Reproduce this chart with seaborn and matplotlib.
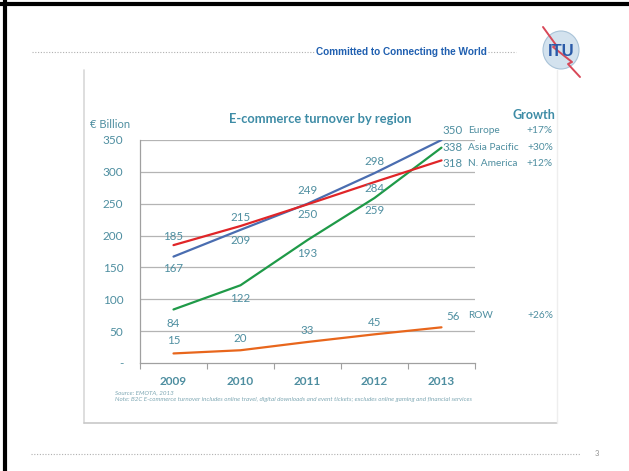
import pandas as pd
import matplotlib.pyplot as plt
import matplotlib.patches as patches
import matplotlib.lines as mlines
import seaborn as sns

years = ['2009', '2010', '2011', '2012', '2013']
europe = [167, 209, 250, 298, 350]
asia_pacific = [84, 122, 193, 259, 338]
n_america = [185, 215, 249, 284, 318]
row = [15, 20, 33, 45, 56]
regions = ['Europe', 'Asia Pacific', 'N. America', 'ROW']
growth = ['+17%', '+30%', '+12%', '+26%']
y_ticks = [0, 50, 100, 150, 200, 250, 300, 350]
y_tick_labels = ['-', '50', '100', '150', '200', '250', '300', '350']

colors = {'Europe': '#4a6db0', 'Asia Pacific': '#1f9a48',
          'N. America': '#e02528', 'ROW': '#e8661c'}
teal = '#4e8ea0'
title_teal = '#3e8ca6'

data = pd.DataFrame({
    'year': years * 4,
    'x': list(range(len(years))) * 4,
    'value': europe + asia_pacific + n_america + row,
    'region': [r for r in regions for _ in years],
})

sns.set_theme(style='white')
plt.rcParams['font.family'] = ['Lato', 'DejaVu Sans']

W, H = 629, 471
fig = plt.figure(figsize=(W / 100, H / 100), dpi=100)
fig.patch.set_facecolor('white')


def fx(px):
    return px / W


def fy(py):
    return 1 - py / H


# slide frame
fig.add_artist(mlines.Line2D([fx(0), fx(W)], [fy(4), fy(4)], color='black', lw=3))
fig.add_artist(mlines.Line2D([fx(4.5), fx(4.5)], [fy(0), fy(H)], color='black', lw=3))
# header
fig.add_artist(mlines.Line2D([fx(32), fx(314)], [fy(52), fy(52)], color='#b0b0b0', lw=0.8, ls=(0, (1, 1.5))))
fig.add_artist(mlines.Line2D([fx(488), fx(516)], [fy(52), fy(52)], color='#b0b0b0', lw=0.8, ls=(0, (1, 1.5))))
fig.text(fx(401), fy(52), 'Committed to Connecting the World', ha='center', va='center',
         fontsize=7.2, fontweight='bold', color='#1f5fb0', family=['Liberation Sans', 'DejaVu Sans'])
# logo
fig.add_artist(patches.Ellipse((fx(561), fy(50)), 36 / W, 38 / H, transform=fig.transFigure,
                               facecolor='#d3e2ee', edgecolor='#a9c3d8', lw=0.8))
fig.add_artist(mlines.Line2D([fx(543), fx(556), fx(553), fx(572), fx(568), fx(580)],
                             [fy(27), fy(45), fy(47), fy(62), fy(64), fy(77)],
                             color='#d84858', lw=1.4, solid_capstyle='round'))
fig.text(fx(561), fy(52), 'ITU', ha='center', va='center', fontsize=12, fontweight='bold',
         color='#2a5aa8', family=['Liberation Sans', 'DejaVu Sans'])
# footer
fig.add_artist(mlines.Line2D([fx(31), fx(581)], [fy(454), fy(454)], color='#b0b0b0', lw=0.8, ls=(0, (1, 1.5))))
fig.text(fx(597), fy(454), '3', ha='center', va='center', fontsize=5.5, color='#909090')
# chart panel
fig.add_artist(mlines.Line2D([fx(84), fx(84)], [fy(70), fy(423)], color='#d8d8d8', lw=1.2))
fig.add_artist(mlines.Line2D([fx(84), fx(557)], [fy(423), fy(423)], color='#c8c8c8', lw=1.2))
fig.add_artist(mlines.Line2D([fx(557), fx(557)], [fy(70), fy(423)], color='#eeeeee', lw=1.0))

ax = fig.add_axes([fx(140), fy(363), fx(475) - fx(140), fy(140) - fy(363)])
ax.set_facecolor('none')
sns.lineplot(data=data, x='x', y='value', hue='region', palette=colors, lw=1.6,
             legend=False, ax=ax)
ax.set_xlim(-0.5, 4.5)
ax.set_ylim(0, 350)
ax.set_yticks(y_ticks)
ax.set_yticklabels(y_tick_labels)
for v in y_ticks[1:]:
    ax.axhline(v, color='#b4b4b4', lw=0.9, zorder=0)
ax.set_xticks([i - 0.5 for i in range(len(years) + 1)])
ax.set_xticklabels([])
ax.tick_params(axis='x', direction='out', length=4, color='#a0a0a0', width=0.8, bottom=True)
ax.tick_params(axis='y', length=0, labelsize=8.5, labelcolor=teal, pad=12)
for i, y in enumerate(years):
    ax.text(i, -0.06, y, transform=ax.get_xaxis_transform(), ha='center', va='top',
            fontsize=8.5, fontweight='bold', color=teal)
for s in ['top', 'right']:
    ax.spines[s].set_visible(False)
ax.spines['left'].set_color('#a0a0a0')
ax.spines['bottom'].set_color('#a0a0a0')
ax.spines['left'].set_linewidth(0.9)
ax.spines['bottom'].set_linewidth(0.9)
ax.set_xlabel('')
ax.set_ylabel('')

# data labels (offsets in points)
offsets = {
    'Europe': [-11, -10, -10, 11],
    'Asia Pacific': [-13, -13, -13, -12],
    'N. America': [8, 8, 13, -6],
    'ROW': [12, 11, 11, 11],
}
series = {'Europe': europe, 'Asia Pacific': asia_pacific, 'N. America': n_america, 'ROW': row}
for name, vals in series.items():
    for i in range(4):
        ax.annotate(str(vals[i]), (i, vals[i]), xytext=(0, offsets[name][i] * 0.75),
                    textcoords='offset points', ha='center', va='center',
                    fontsize=8.3, color=teal, annotation_clip=False)

# right side labels
right_y = [131, 148, 164, 316]
for name, gv, py in zip(regions, growth, right_y):
    fig.text(fx(453), fy(py), str(series[name][-1]), ha='center', va='center', fontsize=8.3, color=teal)
    fig.text(fx(468), fy(py), name, ha='left', va='center', fontsize=7.3, color=teal)
    fig.text(fx(553), fy(py), gv, ha='right', va='center', fontsize=7.3, color=teal)
fig.text(fx(555), fy(115), 'Growth', ha='right', va='center', fontsize=9, fontweight='bold', color=title_teal)

fig.text(fx(320), fy(119), 'E-commerce turnover by region', ha='center', va='center',
         fontsize=9.3, fontweight='bold', color=title_teal)
fig.text(fx(90), fy(124), '€ Billion', ha='left', va='center', fontsize=8, color=teal)

fig.text(fx(115), fy(393), 'Source: EMOTA, 2013', ha='left', va='center', fontsize=4.5,
         style='italic', color='#7fa8b4')
fig.text(fx(115), fy(399.5), 'Note: B2C E-commerce turnover includes online travel, digital downloads and '
         'event tickets; excludes online gaming and financial services',
         ha='left', va='center', fontsize=4.5, style='italic', color='#7fa8b4')

fig.savefig('out.png', dpi=100)
